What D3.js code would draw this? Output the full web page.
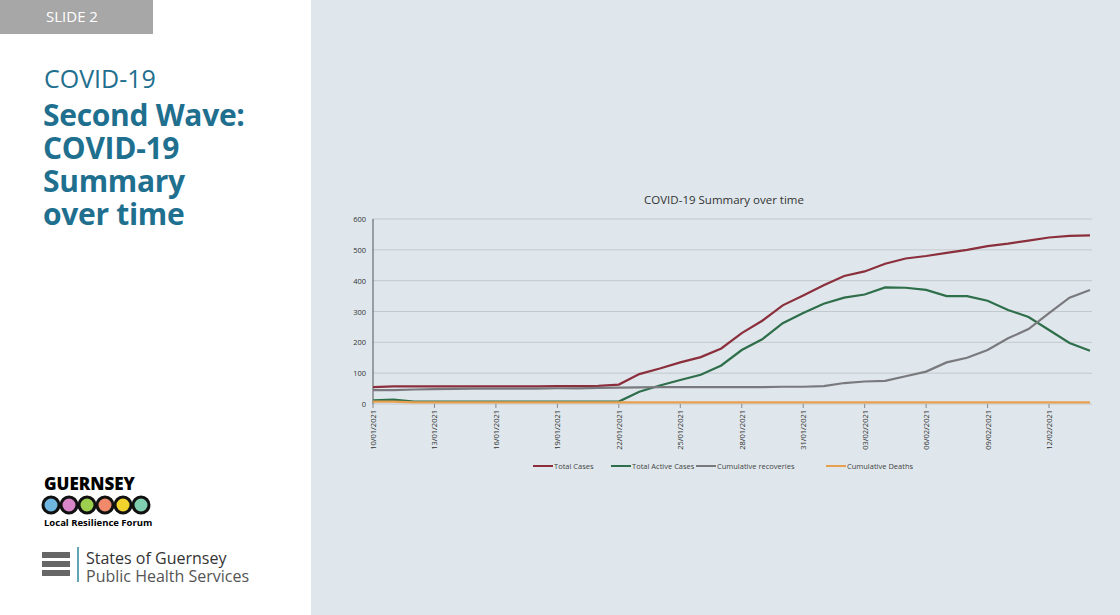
<!DOCTYPE html><html><head><meta charset="utf-8">
<script src="https://cdn.jsdelivr.net/npm/d3@7"></script>
<style>body{margin:0;font-family:"Open Sans",sans-serif}svg{display:block}</style></head><body>
<svg id="c" width="1120" height="615"></svg>
<script>
const dates=["10/01/2021","11/01/2021","12/01/2021","13/01/2021","14/01/2021","15/01/2021","16/01/2021","17/01/2021","18/01/2021","19/01/2021","20/01/2021","21/01/2021","22/01/2021","23/01/2021","24/01/2021","25/01/2021","26/01/2021","27/01/2021","28/01/2021","29/01/2021","30/01/2021","31/01/2021","01/02/2021","02/02/2021","03/02/2021","04/02/2021","05/02/2021","06/02/2021","07/02/2021","08/02/2021","09/02/2021","10/02/2021","11/02/2021","12/02/2021","13/02/2021","14/02/2021"];
const totalCases=[55,57,57,57,57,57,57,57,57,58,58,59,63,97,115,135,152,180,230,270,320,352,385,415,430,455,472,480,490,500,512,520,530,540,545,547];
const activeCases=[12,14,8,8,8,8,8,8,8,8,8,8,8,40,60,78,95,125,175,210,262,295,325,345,355,378,377,370,350,350,335,305,282,240,198,173];
const recoveries=[45,45,47,48,49,50,50,50,50,51,51,52,53,54,55,55,55,55,55,55,56,56,58,68,73,75,90,105,135,150,175,213,243,295,345,370];
const deaths=[8,8,5,5,5,5,5,5,5,5,5,5,5,5,5,5,5,5,5,5,5,5,5,5,5,5,5,5,5,5,5,5,5,5,5,5];
const yTicks=[0,100,200,300,400,500,600];
const seriesNames=["Total Cases","Total Active Cases","Cumulative recoveries","Cumulative Deaths"];
const colors=["#8b2f3c","#2e6e4a","#7a7a7e","#e8a050"];
const svg=d3.select("#c");
svg.append("rect").attr("width",1120).attr("height",615).attr("fill","#fff");
svg.append("rect").attr("x",311).attr("width",809).attr("height",615).attr("fill","#dfe7ec");
svg.append("rect").attr("width",153).attr("height",34).attr("fill","#a7a7a7");
svg.append("text").attr("x",46).attr("y",22).attr("fill","#fff").attr("font-size",15).text("SLIDE 2");
svg.append("text").attr("x",44).attr("y",88).attr("fill","#1f6f8f").attr("font-size",25).text("COVID-19");
["Second Wave:","COVID-19","Summary","over time"].forEach((t,i)=>svg.append("text").attr("x",43).attr("y",126+i*33).attr("fill","#1f6f8f").attr("font-size",30).attr("font-weight",700).attr("letter-spacing",-0.3).text(t));
svg.append("text").attr("x",44).attr("y",490).attr("font-size",17).attr("font-weight",800).text("GUERNSEY");
["#6fb7e0","#d986c9","#9ccf4d","#f08a6a","#f2d22c","#7fcfb0"].forEach((c,i)=>svg.append("circle").attr("cx",51+i*18).attr("cy",505).attr("r",8).attr("fill",c).attr("stroke","#111").attr("stroke-width",3));
svg.append("text").attr("x",44).attr("y",526).attr("font-size",9.5).attr("font-weight",700).text("Local Resilience Forum");
svg.append("line").attr("x1",78).attr("x2",78).attr("y1",547).attr("y2",582).attr("stroke","#2a8a9a").attr("stroke-width",1.5);
svg.append("text").attr("x",86).attr("y",564).attr("font-size",16).attr("fill","#333").text("States of Guernsey");
svg.append("text").attr("x",86).attr("y",582).attr("font-size",16).attr("fill","#555").text("Public Health Services");
for(let i=0;i<3;i++)svg.append("rect").attr("x",42).attr("y",552+i*9).attr("width",28).attr("height",6).attr("fill","#666");

svg.append("text").attr("x",724).attr("y",204).attr("text-anchor","middle").attr("font-size",11.5).attr("fill","#333").text("COVID-19 Summary over time");
const parse=d3.timeParse("%d/%m/%Y");
const x=d3.scaleTime().domain([parse(dates[0]),parse(dates[dates.length-1])]).range([373,1090]);
const y=d3.scaleLinear().domain([0,600]).range([404,219]);
const g=svg.append("g");
yTicks.forEach(t=>{g.append("line").attr("x1",373).attr("x2",1092).attr("y1",y(t)).attr("y2",y(t)).attr("stroke","#c3c9cd");
 g.append("text").attr("x",366).attr("y",y(t)+3).attr("text-anchor","end").attr("font-size",7.5).attr("fill","#333").text(t);});
g.append("line").attr("x1",373).attr("x2",373).attr("y1",219).attr("y2",404).attr("stroke","#555");
dates.forEach((d,i)=>{if(i%3===0){const xx=x(parse(d));g.append("line").attr("x1",xx).attr("x2",xx).attr("y1",404).attr("y2",408).attr("stroke","#888");
 g.append("text").attr("transform",`translate(${xx+3},410) rotate(-90)`).attr("text-anchor","end").attr("font-size",7.5).attr("fill","#333").text(d);}});
const line=d3.line().x((v,i)=>x(parse(dates[i]))).y(v=>y(v));
[totalCases,activeCases,recoveries,deaths].forEach((s,k)=>g.append("path").attr("d",line(s)).attr("fill","none").attr("stroke",colors[k]).attr("stroke-width",2.2));
const lx=[533,611,696,826];
seriesNames.forEach((n,k)=>{g.append("line").attr("x1",lx[k]).attr("x2",lx[k]+20).attr("y1",466).attr("y2",466).attr("stroke",colors[k]).attr("stroke-width",2);
 g.append("text").attr("x",lx[k]+21).attr("y",469).attr("font-size",7.5).attr("fill","#444").text(n);});
</script></body></html>
